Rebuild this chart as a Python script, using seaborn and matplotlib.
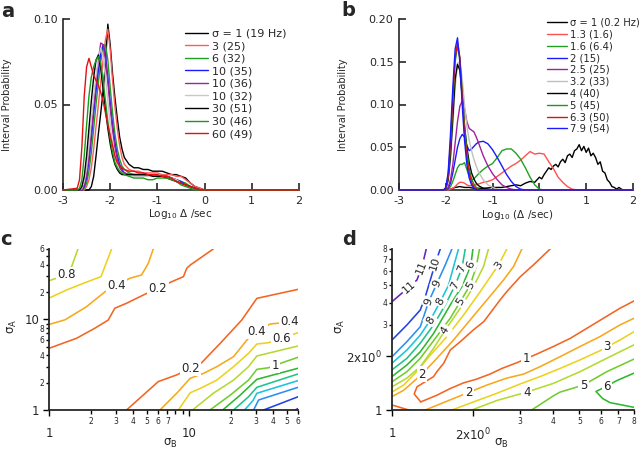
import matplotlib

matplotlib.use("Agg")
import matplotlib.pyplot as plt
import matplotlib.ticker as mticker
import numpy as np
import pandas as pd
import seaborn as sns

# -----------------------------------------------------------------------------
# Panel a: interval distributions (x = log10 interval / s)
# -----------------------------------------------------------------------------
a_x = [-3.0, -2.7, -2.65, -2.6, -2.55, -2.5, -2.45, -2.4, -2.35, -2.3,
       -2.25, -2.2, -2.15, -2.1, -2.05, -2.0, -1.95, -1.9, -1.85, -1.8,
       -1.75, -1.7, -1.6, -1.5, -1.4, -1.3, -1.2, -1.1, -1.0, -0.9,
       -0.8, -0.7, -0.6, -0.5, -0.4, -0.3, -0.2, -0.1, 0.0, 2.0]
a_labels = ["σ = 1 (19 Hz)", "3 (25)", "6 (32)", "10 (35)", "10 (36)",
            "10 (32)", "30 (51)", "30 (46)", "60 (49)"]
a_colors = ["black", "#ff5a5a", "#22a022", "#1a1aff", "#a020a0",
            "#c8c8c8", "black", "#1a9a1a", "#e41010"]
a_s1 = [0, 0, 0, 0, 0, 0, 0, 0.002, 0.008, 0.020,
        0.033, 0.045, 0.058, 0.075, 0.097, 0.085, 0.068, 0.054, 0.042, 0.031,
        0.024, 0.019, 0.015, 0.013, 0.013, 0.012, 0.012, 0.011, 0.011, 0.011,
        0.010, 0.009, 0.009, 0.008, 0.007, 0.004, 0.002, 0.001, 0, 0]
a_s3 = [0, 0, 0, 0, 0, 0.002, 0.006, 0.013, 0.024, 0.037,
        0.050, 0.063, 0.076, 0.088, 0.094, 0.082, 0.064, 0.049, 0.036, 0.026,
        0.019, 0.015, 0.012, 0.011, 0.011, 0.010, 0.010, 0.010, 0.010, 0.009,
        0.009, 0.009, 0.008, 0.008, 0.006, 0.004, 0.002, 0.001, 0, 0]
a_s6 = [0, 0, 0, 0, 0.001, 0.004, 0.011, 0.022, 0.036, 0.050,
        0.063, 0.075, 0.084, 0.085, 0.076, 0.060, 0.045, 0.033, 0.024, 0.018,
        0.014, 0.012, 0.010, 0.009, 0.009, 0.009, 0.008, 0.008, 0.008, 0.008,
        0.008, 0.007, 0.006, 0.005, 0.004, 0.002, 0.001, 0, 0, 0]
a_s10a = [0, 0, 0, 0, 0.002, 0.007, 0.017, 0.030, 0.045, 0.058,
          0.070, 0.080, 0.085, 0.079, 0.066, 0.051, 0.038, 0.028, 0.020, 0.015,
          0.012, 0.010, 0.009, 0.009, 0.009, 0.009, 0.009, 0.008, 0.008, 0.008,
          0.008, 0.007, 0.006, 0.005, 0.003, 0.002, 0.001, 0, 0, 0]
a_s10b = [0, 0, 0, 0, 0.003, 0.009, 0.020, 0.034, 0.049, 0.063,
          0.076, 0.086, 0.085, 0.076, 0.063, 0.048, 0.035, 0.025, 0.018, 0.013,
          0.011, 0.010, 0.009, 0.009, 0.009, 0.009, 0.009, 0.008, 0.008, 0.008,
          0.008, 0.007, 0.006, 0.004, 0.003, 0.002, 0.001, 0, 0, 0]
a_s10c = [0, 0, 0, 0.001, 0.005, 0.013, 0.026, 0.041, 0.055, 0.067,
          0.077, 0.083, 0.078, 0.066, 0.052, 0.038, 0.027, 0.019, 0.014, 0.011,
          0.010, 0.009, 0.009, 0.008, 0.008, 0.008, 0.008, 0.008, 0.008, 0.008,
          0.007, 0.007, 0.006, 0.004, 0.003, 0.002, 0.001, 0, 0, 0]
a_s30a = [0, 0, 0, 0.002, 0.008, 0.020, 0.036, 0.052, 0.066, 0.076,
          0.079, 0.071, 0.059, 0.047, 0.036, 0.027, 0.020, 0.015, 0.012, 0.010,
          0.009, 0.009, 0.009, 0.009, 0.009, 0.009, 0.009, 0.008, 0.008, 0.008,
          0.007, 0.006, 0.005, 0.004, 0.003, 0.002, 0.001, 0, 0, 0]
a_s30b = [0, 0, 0.001, 0.006, 0.020, 0.038, 0.055, 0.066, 0.072, 0.076,
          0.078, 0.074, 0.064, 0.052, 0.040, 0.030, 0.022, 0.016, 0.013, 0.011,
          0.010, 0.009, 0.008, 0.007, 0.007, 0.007, 0.006, 0.006, 0.007, 0.007,
          0.007, 0.006, 0.005, 0.003, 0.002, 0.001, 0, 0, 0, 0]
a_s60 = [0, 0.001, 0.006, 0.025, 0.055, 0.072, 0.077, 0.072, 0.067, 0.064,
         0.061, 0.057, 0.052, 0.045, 0.038, 0.032, 0.026, 0.020, 0.016, 0.014,
         0.013, 0.012, 0.011, 0.011, 0.010, 0.010, 0.009, 0.009, 0.009, 0.008,
         0.008, 0.007, 0.005, 0.004, 0.003, 0.002, 0.001, 0, 0, 0]

# -----------------------------------------------------------------------------
# Panel b
# -----------------------------------------------------------------------------
b_x = [-3.0, -2.05, -2.0, -1.95, -1.9, -1.85, -1.8, -1.75, -1.7, -1.65,
       -1.6, -1.55, -1.5, -1.45, -1.4, -1.35, -1.3, -1.2, -1.1, -1.0,
       -0.9, -0.8, -0.7, -0.6, -0.5, -0.4, -0.3, -0.2, -0.1, 0.0,
       0.1, 0.2, 0.3, 0.4, 0.5, 0.6, 0.7, 0.8, 2.0]
b_x1 = [-3.0, -2.0, -1.9, -1.8, -1.7, -1.6, -1.5, -1.4, -1.2, -1.0,
        -0.8, -0.6, -0.5, -0.4, -0.3, -0.2, -0.1, 0.0,
        0.05, 0.1, 0.15, 0.2, 0.25, 0.3, 0.35, 0.4, 0.45, 0.5,
        0.55, 0.6, 0.65, 0.7, 0.75, 0.8, 0.85, 0.9, 0.95, 1.0,
        1.05, 1.1, 1.15, 1.2, 1.25, 1.3, 1.35, 1.4, 1.45, 1.5,
        1.55, 1.6, 1.65, 1.7, 1.75, 1.8, 2.0]
b_labels = ["σ = 1 (0.2 Hz)", "1.3 (1.6)", "1.6 (6.4)", "2 (15)", "2.5 (25)",
            "3.2 (33)", "4 (40)", "5 (45)", "6.3 (50)", "7.9 (54)"]
b_colors = ["black", "#ff5050", "#22a022", "#1a1aff", "#a020a0",
            "#c0c0c0", "black", "#1a9a1a", "#e01010", "#1a1aff"]
b_s1 = [0, 0, 0.001, 0.003, 0.004, 0.003, 0.003, 0.002, 0.002, 0.003,
        0.003, 0.005, 0.006, 0.005, 0.008, 0.010, 0.009, 0.015,
        0.013, 0.018, 0.022, 0.026, 0.024, 0.028, 0.030, 0.027, 0.033, 0.036,
        0.032, 0.040, 0.042, 0.038, 0.046, 0.048, 0.053, 0.046, 0.051, 0.044,
        0.049, 0.040, 0.043, 0.038, 0.030, 0.033, 0.022, 0.020, 0.012, 0.009,
        0.004, 0.003, 0.001, 0.003, 0.001, 0, 0]
b_s13 = [0, 0, 0, 0, 0.001, 0.002, 0.004, 0.007, 0.009, 0.009,
         0.008, 0.006, 0.005, 0.005, 0.006, 0.006, 0.007, 0.009, 0.010, 0.012,
         0.016, 0.020, 0.024, 0.028, 0.031, 0.035, 0.040, 0.045, 0.042, 0.043,
         0.042, 0.033, 0.025, 0.015, 0.009, 0.004, 0.001, 0, 0]
b_s16 = [0, 0, 0, 0.001, 0.004, 0.010, 0.018, 0.026, 0.030, 0.030,
         0.032, 0.024, 0.016, 0.012, 0.013, 0.016, 0.019, 0.024, 0.028, 0.031,
         0.038, 0.046, 0.048, 0.048, 0.043, 0.036, 0.026, 0.015, 0.006, 0.001,
         0, 0, 0, 0, 0, 0, 0, 0, 0]
b_s2 = [0, 0, 0, 0.002, 0.008, 0.020, 0.035, 0.050, 0.060, 0.065,
        0.062, 0.052, 0.046, 0.048, 0.051, 0.054, 0.056, 0.057, 0.054, 0.047,
        0.038, 0.028, 0.018, 0.010, 0.004, 0.001, 0, 0, 0, 0,
        0, 0, 0, 0, 0, 0, 0, 0, 0]
b_s25 = [0, 0, 0, 0.003, 0.012, 0.030, 0.055, 0.080, 0.098, 0.104,
         0.095, 0.080, 0.072, 0.070, 0.068, 0.062, 0.055, 0.040, 0.028, 0.019,
         0.012, 0.006, 0.003, 0.001, 0, 0, 0, 0, 0, 0,
         0, 0, 0, 0, 0, 0, 0, 0, 0]
b_s32 = [0, 0, 0.001, 0.010, 0.035, 0.075, 0.120, 0.148, 0.150, 0.130,
         0.100, 0.075, 0.058, 0.046, 0.036, 0.028, 0.021, 0.012, 0.006, 0.003,
         0.001, 0, 0, 0, 0, 0, 0, 0, 0, 0,
         0, 0, 0, 0, 0, 0, 0, 0, 0]
b_s4 = [0, 0, 0.001, 0.012, 0.040, 0.085, 0.130, 0.147, 0.140, 0.110,
        0.075, 0.050, 0.032, 0.020, 0.013, 0.008, 0.005, 0.002, 0.001, 0,
        0, 0, 0, 0, 0, 0, 0, 0, 0, 0,
        0, 0, 0, 0, 0, 0, 0, 0, 0]
b_s5 = [0, 0, 0.002, 0.015, 0.050, 0.100, 0.150, 0.168, 0.155, 0.115,
        0.075, 0.045, 0.025, 0.013, 0.007, 0.003, 0.001, 0, 0, 0,
        0, 0, 0, 0, 0, 0, 0, 0, 0, 0,
        0, 0, 0, 0, 0, 0, 0, 0, 0]
b_s63 = [0, 0, 0.002, 0.016, 0.055, 0.108, 0.155, 0.172, 0.155, 0.110,
         0.068, 0.038, 0.020, 0.009, 0.004, 0.001, 0, 0, 0, 0,
         0, 0, 0, 0, 0, 0, 0, 0, 0, 0,
         0, 0, 0, 0, 0, 0, 0, 0, 0]
b_s79 = [0, 0, 0.003, 0.020, 0.065, 0.120, 0.165, 0.178, 0.150, 0.100,
         0.058, 0.030, 0.014, 0.006, 0.002, 0, 0, 0, 0, 0,
         0, 0, 0, 0, 0, 0, 0, 0, 0, 0,
         0, 0, 0, 0, 0, 0, 0, 0, 0]

# -----------------------------------------------------------------------------
# Panel c: contour lines (x = sigma_B, y = sigma_A)
# -----------------------------------------------------------------------------
c02u_b = [1, 1.57, 2.12, 2.65, 2.95, 3.58, 4.71, 7.52, 9.12, 9.63, 10.2, 14.9]
c02u_a = [4.8, 6.19, 7.98, 9.86, 13.3, 15.1, 18.6, 26.1, 29.7, 36.7, 39.9, 60]
c04u_b = [1, 1.30, 1.85, 2.51, 3.78, 4.58, 5.12, 5.55]
c04u_a = [8.8, 9.9, 13.8, 20.2, 28.5, 31.0, 41.7, 60]
c06u_b = [1, 1.33, 1.75, 2.35, 2.80]
c06u_a = [17.2, 21.1, 25.0, 29.7, 60]
c08u_b = [1, 1.33, 1.45, 1.61]
c08u_a = [26.8, 31.0, 38.3, 60]
c02l_b = [3.58, 6.03, 8.16, 12.3, 16.7, 23.8, 30.5, 60]
c02l_a = [1, 2.06, 2.44, 3.33, 5.45, 9.86, 17.1, 21.5]
c04l_b = [6.2, 8.16, 10.2, 12.7, 15.8, 20.8, 25.9, 28.9, 38.0, 47.4, 60]
c04l_a = [1, 1.53, 2.24, 2.54, 3.01, 3.88, 5.93, 7.03, 8.91, 9.21, 9.86]
c06l_b = [8.39, 10.2, 12.0, 15.8, 20.8, 26.6, 30.5, 37.0, 60]
c06l_a = [1, 1.55, 1.73, 2.14, 3.01, 4.22, 5.35, 5.54, 7.14]
c08l_b = [10.6, 14.9, 20.8, 26.6, 30.5, 60]
c08l_a = [1, 1.53, 2.14, 3.01, 3.95, 5.09]
c10l_b = [14.1, 19.7, 26.6, 30.5, 37.0, 48.7, 60]
c10l_a = [1, 1.46, 2.14, 2.81, 2.93, 3.42, 3.82]
c12l_b = [17.4, 23.2, 30.5, 60]
c12l_a = [1, 1.46, 2.18, 2.89]
c14l_b = [20.8, 26.6, 30.5, 60]
c14l_a = [1, 1.40, 1.78, 2.50]
c16l_b = [24.9, 28.6, 30.5, 60]
c16l_a = [1, 1.27, 1.53, 2.11]
c18l_b = [28.9, 31.4, 60]
c18l_a = [1, 1.29, 1.78]
c20l_b = [34.1, 60]
c20l_a = [1, 1.40]
c22l_b = [57.5, 60]
c22l_a = [1, 1.04]

# -----------------------------------------------------------------------------
# Panel d: contour lines
# -----------------------------------------------------------------------------
d01u_b = [3.89, 3.37, 3.01, 2.68, 2.53, 2.32, 2.20, 2.01, 1.80, 1.65, 1.56, 1.47, 1.43, 1.24, 1.21, 1.28]
d01u_a = [8.0, 6.51, 5.59, 4.61, 4.14, 3.48, 3.13, 2.81, 2.42, 2.17, 1.83, 1.64, 1.54, 1.35, 1.23, 1.11]
d01l_b = [1.28, 1.47, 1.65, 1.85, 2.07, 2.32, 2.57, 2.92, 3.47, 4.00, 4.62, 5.33, 6.15, 7.09, 8.0]
d01l_a = [1.11, 1.21, 1.32, 1.42, 1.49, 1.59, 1.71, 1.84, 2.06, 2.27, 2.52, 2.87, 3.27, 3.72, 4.09]
d01c_b = [1, 1.154]
d01c_a = [1.067, 1.0]
d02u_b = [1, 1.105, 1.294, 1.471, 1.697, 1.958, 2.259, 2.607, 2.840, 3.053]
d02u_a = [1.19, 1.29, 1.59, 1.95, 2.47, 3.20, 4.14, 5.36, 6.37, 8.0]
d02l_b = [1.331, 1.697, 2.259, 2.683, 3.098, 3.570, 4.236, 5.03, 5.97, 7.09, 8.0]
d02l_a = [1.0, 1.16, 1.38, 1.51, 1.59, 1.75, 1.99, 2.27, 2.58, 3.00, 3.27]
d03u_b = [1, 1.105, 1.221, 1.390, 1.603, 1.849, 2.134, 2.497, 2.683]
d03u_a = [1.26, 1.38, 1.61, 2.03, 2.58, 3.41, 4.61, 6.51, 8.0]
d03l_b = [1.673, 2.015, 2.46, 3.01, 3.57, 4.236, 5.03, 5.97, 7.09, 8.0]
d03l_a = [1.0, 1.11, 1.24, 1.40, 1.54, 1.71, 1.91, 2.15, 2.47, 2.75]
d04u_b = [1, 1.137, 1.275, 1.430, 1.580, 1.797, 2.015, 2.195, 2.291]
d04u_a = [1.35, 1.51, 1.75, 2.22, 2.81, 3.72, 4.92, 6.37, 8.0]
d04l_b = [1.986, 2.46, 3.18, 4.0, 5.03, 6.33, 8.0]
d04l_a = [1.0, 1.13, 1.26, 1.41, 1.64, 1.95, 2.32]
d05u_b = [1, 1.137, 1.275, 1.450, 1.649, 1.797, 1.958, 2.062, 2.122]
d05u_a = [1.44, 1.64, 1.95, 2.52, 3.27, 4.05, 5.02, 6.37, 8.0]
d05l_b = [3.32, 4.0, 4.236, 5.18, 6.33, 8.0]
d05l_a = [1.0, 1.20, 1.26, 1.38, 1.64, 1.93]
d06u_b = [1, 1.137, 1.275, 1.430, 1.649, 1.838, 1.969, 2.004]
d06u_a = [1.54, 1.79, 2.12, 2.69, 3.88, 5.02, 6.51, 8.0]
d06l_b = [8.0, 6.89, 6.33, 5.77, 6.11, 6.51, 8.0]
d06l_a = [1.61, 1.46, 1.36, 1.27, 1.16, 1.10, 1.035]
d07_b = [1, 1.137, 1.275, 1.430, 1.580, 1.721, 1.823, 1.876]
d07_a = [1.68, 1.95, 2.37, 3.00, 3.88, 5.02, 6.23, 8.0]
d08_b = [1, 1.137, 1.275, 1.390, 1.514, 1.626, 1.697, 1.771]
d08_a = [1.83, 2.17, 2.63, 3.20, 4.05, 5.02, 6.37, 8.0]
d09_b = [1, 1.137, 1.275, 1.370, 1.471, 1.580, 1.673]
d09_a = [1.99, 2.42, 2.93, 4.05, 5.13, 6.51, 8.0]
d10_b = [1, 1.137, 1.275, 1.331, 1.390, 1.450, 1.514]
d10_a = [2.47, 3.00, 3.64, 4.32, 5.36, 6.65, 8.0]
d11_b = [1, 1.105, 1.239, 1.294, 1.342]
d11_a = [4.05, 4.61, 5.36, 6.37, 8.0]

# one colour per contour level (orange -> violet)
contour_colors = ["#f26522", "#f7a81b", "#ecd21c", "#b5d930", "#72cc2e", "#2eb82e",
                  "#1fc48a", "#1cc3dc", "#2a8ff0", "#2244dd", "#6a1fc0"]

c_xminor = [2, 3, 4, 5, 6, 7, 8, 9, 20, 30, 40, 50, 60]
c_xminor_lbl = ["2", "3", "4", "5", "6", "7", "", "", "2", "3", "4", "5", "6"]
c_yminor = [2, 3, 4, 5, 6, 7, 8, 9, 20, 30, 40, 50, 60]
c_yminor_lbl = ["2", "", "4", "", "6", "", "8", "", "2", "", "4", "", "6"]
d_minor = [3, 4, 5, 6, 7, 8]
d_minor_lbl = ["3", "4", "5", "6", "7", "8"]


sns.set_style("ticks")
plt.rcParams["font.family"] = ["DejaVu Sans"]
plt.rcParams["axes.unicode_minus"] = False
plt.rcParams["mathtext.default"] = "regular"

W, H = 640, 451


def px_rect(left, right, top, bottom):
    return [left / W, 1 - bottom / H, (right - left) / W, (bottom - top) / H]


def long_frame(xs, curves, labels):
    parts = []
    for x, ys, lab in zip(xs, curves, labels):
        parts.append(pd.DataFrame({"x": x, "p": ys, "curve": lab}))
    return pd.concat(parts, ignore_index=True)


def contour(ax, bx, ay, level):
    sns.lineplot(x=bx, y=ay, sort=False, estimator=None, color=contour_colors[level],
                 lw=1.15, ax=ax, legend=False)


def put_label(ax, bx, ay, text, at, along="x", rotate=False, fs=8.5):
    lx, ly = np.log10(bx), np.log10(ay)
    key = lx if along == "x" else ly
    tgt = np.log10(at)
    for i in range(len(key) - 1):
        if (key[i] - tgt) * (key[i + 1] - tgt) <= 0 and key[i] != key[i + 1]:
            f = (tgt - key[i]) / (key[i + 1] - key[i])
            px = lx[i] + f * (lx[i + 1] - lx[i])
            py = ly[i] + f * (ly[i + 1] - ly[i])
            break
    angle = 0.0
    if rotate:
        p0 = ax.transData.transform((bx[i], ay[i]))
        p1 = ax.transData.transform((bx[i + 1], ay[i + 1]))
        angle = np.degrees(np.arctan2(p1[1] - p0[1], p1[0] - p0[0]))
        if angle > 90:
            angle -= 180
        elif angle < -90:
            angle += 180
    ax.text(10 ** px, 10 ** py, text, fontsize=fs, rotation=angle, rotation_mode="anchor",
            ha="center", va="center", zorder=5,
            bbox=dict(boxstyle="square,pad=0.12", fc="white", ec="none"))


def style_log(ax, lim, xmaj, xmaj_lbl, xmin, xmin_lbl, ymaj, ymaj_lbl, ymin, ymin_lbl):
    ax.set_xscale("log")
    ax.set_yscale("log")
    ax.set_xlim(*lim[0])
    ax.set_ylim(*lim[1])
    ax.xaxis.set_major_locator(mticker.FixedLocator(xmaj))
    ax.xaxis.set_major_formatter(mticker.FixedFormatter(xmaj_lbl))
    ax.xaxis.set_minor_locator(mticker.FixedLocator(xmin))
    ax.xaxis.set_minor_formatter(mticker.FixedFormatter(xmin_lbl))
    ax.yaxis.set_major_locator(mticker.FixedLocator(ymaj))
    ax.yaxis.set_major_formatter(mticker.FixedFormatter(ymaj_lbl))
    ax.yaxis.set_minor_locator(mticker.FixedLocator(ymin))
    ax.yaxis.set_minor_formatter(mticker.FixedFormatter(ymin_lbl))
    sns.despine(ax=ax)
    for s in ("left", "bottom"):
        ax.spines[s].set_linewidth(1.3)
    ax.tick_params(which="both", direction="out", width=1.0, color="black")
    ax.tick_params(axis="x", which="major", labelsize=8.5, length=4, pad=8)
    ax.tick_params(axis="x", which="minor", labelsize=5.5, length=3, pad=2)
    ax.tick_params(axis="y", which="major", labelsize=8.5, length=4, pad=3)
    ax.tick_params(axis="y", which="minor", labelsize=5.5, length=2.5, pad=1)
    ax.set_xlabel(r"$\sigma_B$", fontsize=8.5)
    ax.set_ylabel(r"$\sigma_A$", fontsize=8.5)


fig = plt.figure(figsize=(W / 100, H / 100), dpi=100)
ax_a = fig.add_axes(px_rect(63, 299, 19, 190))
ax_b = fig.add_axes(px_rect(399, 633, 19, 190))
ax_c = fig.add_axes(px_rect(49, 298, 249, 410))
ax_d = fig.add_axes(px_rect(392, 634, 249, 410))

# ----------------------------- panel a / b ------------------------------------
df_a = long_frame([a_x] * 9,
                  [a_s1, a_s3, a_s6, a_s10a, a_s10b, a_s10c, a_s30a, a_s30b, a_s60],
                  a_labels)
df_b = long_frame([b_x1] + [b_x] * 9,
                  [b_s1, b_s13, b_s16, b_s2, b_s25, b_s32, b_s4, b_s5, b_s63, b_s79],
                  b_labels)

for ax, df, labels, colors in ((ax_a, df_a, a_labels, a_colors),
                               (ax_b, df_b, b_labels, b_colors)):
    sns.lineplot(data=df, x="x", y="p", hue="curve", hue_order=labels, palette=colors,
                 estimator=None, sort=False, lw=1.0, ax=ax)
    for ln in ax.lines:
        ln.set_clip_on(False)
        ln.set_zorder(3)
    sns.despine(ax=ax)
    for s in ("left", "bottom"):
        ax.spines[s].set_linewidth(1.2)
    ax.tick_params(direction="in", length=5, width=1.2, labelsize=8, pad=4)
    ax.set_xlim(-3, 2)
    ax.set_xticks([-3, -2, -1, 0, 1, 2])
    ax.yaxis.set_major_formatter(mticker.FormatStrFormatter("%.2f"))
    ax.set_ylabel("Interval Probability", fontsize=7)

ax_a.set_ylim(0, 0.10)
ax_a.set_yticks([0, 0.05, 0.10])
ax_a.set_xlabel(r"Log$_{10}$ $\Delta$ /sec", fontsize=7.5)
ax_a.xaxis.set_label_coords(0.496, -0.10)
ax_a.yaxis.set_label_coords(-0.216, 0.497)
sns.move_legend(ax_a, "upper left", bbox_to_anchor=(0.515, 0.944), frameon=False, title=None,
                fontsize=8, handlelength=2.1, labelspacing=0.23, handletextpad=0.4,
                borderpad=0, borderaxespad=0)

ax_b.set_ylim(0, 0.20)
ax_b.set_yticks([0, 0.05, 0.10, 0.15, 0.20])
ax_b.set_xlabel(r"Log$_{10}$ ($\Delta$ /sec)", fontsize=7.5)
ax_b.xaxis.set_label_coords(0.504, -0.105)
ax_b.yaxis.set_label_coords(-0.218, 0.497)
sns.move_legend(ax_b, "upper left", bbox_to_anchor=(0.632, 1.008), frameon=False, title=None,
                fontsize=7.2, handlelength=2.0, labelspacing=0.18, handletextpad=0.3,
                borderpad=0, borderaxespad=0)

# ----------------------------- panel c ----------------------------------------
c_lines = [(c02u_b, c02u_a, 0), (c04u_b, c04u_a, 1), (c06u_b, c06u_a, 2), (c08u_b, c08u_a, 3),
           (c02l_b, c02l_a, 0), (c04l_b, c04l_a, 1), (c06l_b, c06l_a, 2), (c08l_b, c08l_a, 3),
           (c10l_b, c10l_a, 4), (c12l_b, c12l_a, 5), (c14l_b, c14l_a, 6), (c16l_b, c16l_a, 7),
           (c18l_b, c18l_a, 8), (c20l_b, c20l_a, 9), (c22l_b, c22l_a, 10)]
for bx, ay, lev in c_lines:
    contour(ax_c, bx, ay, lev)
style_log(ax_c, ((1, 60), (1, 60)), [1, 10], ["1", "10"], c_xminor, c_xminor_lbl,
          [1, 10], ["1", "10"], c_yminor, c_yminor_lbl)
put_label(ax_c, c02u_b, c02u_a, "0.2", 6.0)
put_label(ax_c, c04u_b, c04u_a, "0.4", 3.03)
put_label(ax_c, c08u_b, c08u_a, "0.8", 1.33)
put_label(ax_c, c02l_b, c02l_a, "0.2", 10.2)
put_label(ax_c, c04l_b, c04l_a, "0.4", 30.5)
put_label(ax_c, c04l_b, c04l_a, "0.4", 52.0)
put_label(ax_c, c06l_b, c06l_a, "0.6", 46.0)
put_label(ax_c, c10l_b, c10l_a, "1", 41.3)
ax_c.xaxis.set_label_coords(0.486, -0.17)
ax_c.yaxis.set_label_coords(-0.12, 0.516)

# ----------------------------- panel d ----------------------------------------
d_major_lbl = ["1", r"2x10$^{0}$"]
d_lines = [(d01u_b, d01u_a, 0), (d01l_b, d01l_a, 0), (d01c_b, d01c_a, 0),
           (d02u_b, d02u_a, 1), (d02l_b, d02l_a, 1), (d03u_b, d03u_a, 2), (d03l_b, d03l_a, 2),
           (d04u_b, d04u_a, 3), (d04l_b, d04l_a, 3), (d05u_b, d05u_a, 4), (d05l_b, d05l_a, 4),
           (d06u_b, d06u_a, 5), (d06l_b, d06l_a, 5), (d07_b, d07_a, 6), (d08_b, d08_a, 7),
           (d09_b, d09_a, 8), (d10_b, d10_a, 9), (d11_b, d11_a, 10)]
for bx, ay, lev in d_lines:
    contour(ax_d, bx, ay, lev)
style_log(ax_d, ((1, 8), (1, 8)), [1, 2], d_major_lbl, d_minor, d_minor_lbl,
          [1, 2], d_major_lbl, d_minor, d_minor_lbl)
# rotated labels along the steep upper-left lines
for bx, ay, txt, at in ((d11_b, d11_a, "11", 4.9), (d11_b, d11_a, "11", 6.3),
                        (d10_b, d10_a, "10", 6.65), (d09_b, d09_a, "9", 4.05),
                        (d09_b, d09_a, "9", 5.13), (d08_b, d08_a, "8", 3.2),
                        (d08_b, d08_a, "8", 4.05), (d07_b, d07_a, "7", 5.02),
                        (d07_b, d07_a, "7", 6.23), (d06u_b, d06u_a, "6", 6.5),
                        (d05u_b, d05u_a, "5", 4.05), (d05u_b, d05u_a, "5", 5.02),
                        (d04u_b, d04u_a, "4", 2.81), (d03u_b, d03u_a, "3", 6.51)):
    put_label(ax_d, bx, ay, txt, at, along="y", rotate=True, fs=8)
put_label(ax_d, d02u_b, d02u_a, "2", 1.59, along="y")
put_label(ax_d, d01l_b, d01l_a, "1", 3.17)
put_label(ax_d, d02l_b, d02l_a, "2", 1.93)
put_label(ax_d, d03l_b, d03l_a, "3", 6.36)
put_label(ax_d, d04l_b, d04l_a, "4", 3.18)
put_label(ax_d, d05l_b, d05l_a, "5", 5.18)
put_label(ax_d, d06l_b, d06l_a, "6", 6.33)
ax_d.xaxis.set_label_coords(0.453, -0.17)
ax_d.yaxis.set_label_coords(-0.186, 0.517)

# panel letters
for txt, x, y in (("a", 1, 17), ("b", 341, 16), ("c", 0, 245), ("d", 342, 245)):
    fig.text(x / W, 1 - y / H, txt, fontsize=14, fontweight="bold", va="baseline")

fig.savefig("out.png", dpi=100)
plt.close(fig)
